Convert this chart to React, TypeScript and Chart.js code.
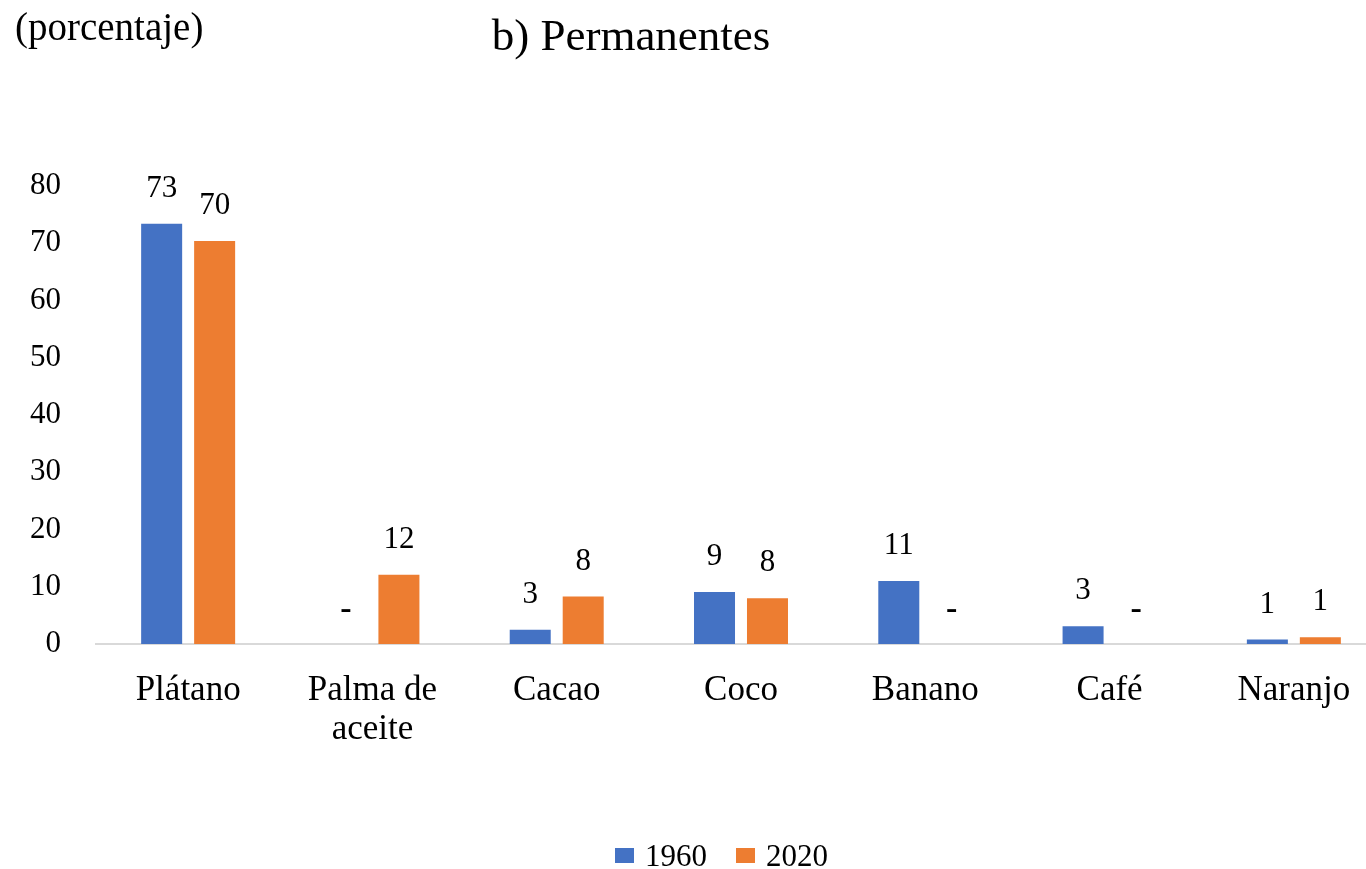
import React, { useEffect, useRef } from "react";
import { Chart, registerables } from "chart.js";

Chart.register(...registerables);

const categories: (string | string[])[] = [
  "Plátano",
  ["Palma de", "aceite"],
  "Cacao",
  "Coco",
  "Banano",
  "Café",
  "Naranjo",
];
const seriesLabels = ["1960", "2020"];
const values1960 = [73.4, 0, 2.5, 9.1, 11.0, 3.1, 0.8];
const values2020 = [70.4, 12.1, 8.3, 8.0, 0, 0, 1.2];
const yTicks = [0, 10, 20, 30, 40, 50, 60, 70, 80];
const titleText = "b) Permanentes";
const unitText = "(porcentaje)";

const BLUE = "#4472C4";
const ORANGE = "#ED7D31";
const FONT = "'Liberation Serif', 'Times New Roman', serif";

const overlayPlugin = {
  id: "overlay",
  afterDatasetsDraw(chart: any) {
    const ctx = chart.ctx as CanvasRenderingContext2D;
    ctx.save();
    ctx.fillStyle = "#000";
    ctx.textAlign = "center";
    ctx.textBaseline = "middle";
    chart.data.datasets.forEach((ds: any, di: number) => {
      const meta = chart.getDatasetMeta(di);
      meta.data.forEach((el: any, i: number) => {
        const v = ds.data[i] as number;
        if (v === 0) {
          ctx.font = `bold 34px ${FONT}`;
          ctx.fillText("-", el.x, el.y - 34);
        } else {
          ctx.font = `31px ${FONT}`;
          ctx.fillText(String(Math.round(v)), el.x, el.y - 35);
        }
      });
    });
    ctx.restore();
  },
  afterDraw(chart: any) {
    const ctx = chart.ctx as CanvasRenderingContext2D;
    ctx.save();
    ctx.fillStyle = "#000";
    ctx.textBaseline = "alphabetic";
    ctx.textAlign = "center";
    ctx.font = `45px ${FONT}`;
    ctx.fillText(titleText, 631, 50);
    ctx.textAlign = "left";
    ctx.font = `39px ${FONT}`;
    ctx.fillText(unitText, 15, 40);
    // legend
    const items = chart.data.datasets.map((d: any) => ({ label: d.label, color: d.backgroundColor }));
    const boxX = [615, 736];
    ctx.font = `31px ${FONT}`;
    items.forEach((it: any, k: number) => {
      ctx.fillStyle = it.color;
      ctx.fillRect(boxX[k], 848, 19, 15);
      ctx.fillStyle = "#000";
      ctx.fillText(it.label, boxX[k] + 30, 866);
    });
    ctx.restore();
  },
};

export default function App() {
  const ref = useRef<HTMLCanvasElement>(null);
  useEffect(() => {
    document.body.style.margin = "0";
    const chart = new Chart(ref.current!, {
      type: "bar",
      data: {
        labels: categories,
        datasets: [
          {
            label: seriesLabels[0],
            data: values1960,
            backgroundColor: BLUE,
            categoryPercentage: 0.575,
            barPercentage: 0.774,
          },
          {
            label: seriesLabels[1],
            data: values2020,
            backgroundColor: ORANGE,
            categoryPercentage: 0.575,
            barPercentage: 0.774,
          },
        ],
      },
      options: {
        responsive: false,
        animation: false,
        layout: { padding: { top: 186, right: 0, bottom: 0, left: 0 } },
        plugins: {
          legend: { display: false },
          title: { display: false },
          tooltip: { enabled: false },
        },
        scales: {
          x: {
            grid: { display: false },
            border: { display: true, color: "#d9d9d9", width: 2 },
            ticks: {
              color: "#000",
              font: { family: FONT, size: 35, lineHeight: 1.12 },
              padding: 19,
              maxRotation: 0,
              autoSkip: false,
            },
            afterFit(scale: any) {
              scale.height = 225;
            },
          },
          y: {
            min: 0,
            max: 80,
            grid: { display: false },
            border: { display: false },
            afterBuildTicks(scale: any) {
              scale.ticks = yTicks.map((v) => ({ value: v }));
            },
            ticks: {
              color: "#000",
              font: { family: FONT, size: 31 },
              padding: 27,
            },
            afterFit(scale: any) {
              scale.width = 96;
            },
          },
        },
      },
      plugins: [overlayPlugin],
    });
    return () => chart.destroy();
  }, []);
  return (
    <div style={{ position: "fixed", left: 0, top: 0, width: 1366, height: 869, overflow: "hidden", background: "#fff" }}>
      <canvas ref={ref} width={1386} height={869} style={{ display: "block" }} />
    </div>
  );
}
